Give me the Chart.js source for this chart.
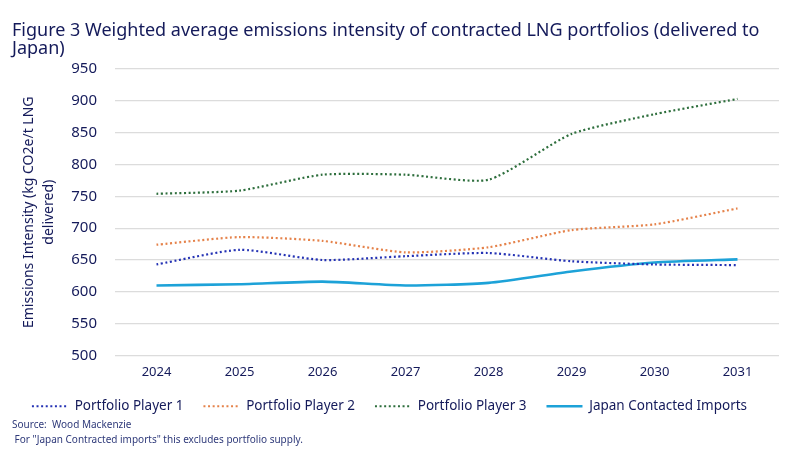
<!DOCTYPE html>
<html>
<head>
<meta charset="utf-8">
<script src="https://cdn.jsdelivr.net/npm/chart.js@4"></script>
<style>
  body { margin: 0; background: #fff; font-family: "Noto Sans", sans-serif; }
  #wrap { position: relative; width: 800px; height: 450px; }
  #title { position: absolute; left: 12px; top: 20px; width: 760px; font-size: 18px; line-height: 18px; color: #141a5a; }
  #note { position: absolute; left: 12px; top: 417px; font-size: 10px; line-height: 15px; color: #2f3a7a; }
  canvas { position: absolute; left: 0; top: 0; }
</style>
</head>
<body>
<div id="wrap">
  <canvas id="chart1" width="800" height="450"></canvas>
  <div id="title">Figure 3 Weighted average emissions intensity of contracted LNG portfolios (delivered to Japan)</div>
  <div id="note">Source:&nbsp; Wood Mackenzie<br>&nbsp;For "Japan Contracted imports" this excludes portfolio supply.</div>
</div>
<script>
var years = ['2024', '2025', '2026', '2027', '2028', '2029', '2030', '2031'];
var player1 = [643, 666, 650, 656, 661, 648, 643, 642];
var player2 = [674, 686, 680, 662, 670, 697, 706, 731];
var player3 = [754, 759, 784, 784, 776, 848, 879, 903];
var japanImports = [610, 612, 616, 610, 614, 632, 646, 651];

var navy = '#141a5a';
var dots = [2, 2.6];

// chart1
var ctx = document.getElementById('chart1').getContext('2d');
var myChart = new Chart(ctx, {
    type: 'line',
    data: {
        labels: years,
        datasets: [{
            label: 'Portfolio Player 1',
            data: player1,
            borderColor: '#2432b4',
            borderWidth: 2.2,
            borderDash: dots,
            pointRadius: 0,
            tension: 0.2
        }, {
            label: 'Portfolio Player 2',
            data: player2,
            borderColor: '#e5824a',
            borderWidth: 2.2,
            borderDash: dots,
            pointRadius: 0,
            tension: 0.2
        }, {
            label: 'Portfolio Player 3',
            data: player3,
            borderColor: '#2d6e3c',
            borderWidth: 2.2,
            borderDash: dots,
            pointRadius: 0,
            tension: 0.2
        }, {
            label: 'Japan Contacted Imports',
            data: japanImports,
            borderColor: '#1da2d8',
            borderWidth: 2.6,
            pointRadius: 0,
            tension: 0.2
        }]
    },
    options: {
        responsive: false,
        animation: false,
        layout: {
            padding: { left: 0, right: 21, top: 69, bottom: 27 }
        },
        scales: {
            x: {
                offset: true,
                grid: { display: false, drawTicks: false },
                border: { display: false },
                ticks: { color: navy, font: { family: 'Noto Sans', size: 13 }, padding: 9 },
                afterFit: function(scale) { scale.height = 24; }
            },
            y: {
                min: 500,
                max: 950,
                ticks: { stepSize: 50, color: navy, font: { family: 'Noto Sans', size: 15 }, padding: 18 },
                grid: { color: '#dcdcdc', lineWidth: 1.2, drawTicks: false },
                border: { display: false },
                title: {
                    display: true,
                    text: ['Emissions Intensity (kg CO2e/t LNG', 'delivered)'],
                    color: navy,
                    font: { family: 'Noto Sans', size: 14, lineHeight: 1.45 },
                    padding: { top: 19, bottom: 0 }
                },
                afterFit: function(scale) { scale.width = 115; }
            }
        },
        plugins: {
            legend: {
                position: 'bottom',
                labels: {
                    usePointStyle: true,
                    pointStyle: 'line',
                    pointStyleWidth: 36,
                    color: navy,
                    font: { family: 'Noto Sans', size: 13.5 },
                    padding: 20,
                    generateLabels: function(chart) {
                        var items = Chart.defaults.plugins.legend.labels.generateLabels(chart);
                        items.forEach(function(item) {
                            var ds = chart.data.datasets[item.datasetIndex];
                            item.lineDash = ds.borderDash || [];
                            item.lineWidth = ds.borderWidth;
                            item.strokeStyle = ds.borderColor;
                        });
                        return items;
                    }
                }
            },
            tooltip: { enabled: false }
        }
    }
});
</script>
</body>
</html>
